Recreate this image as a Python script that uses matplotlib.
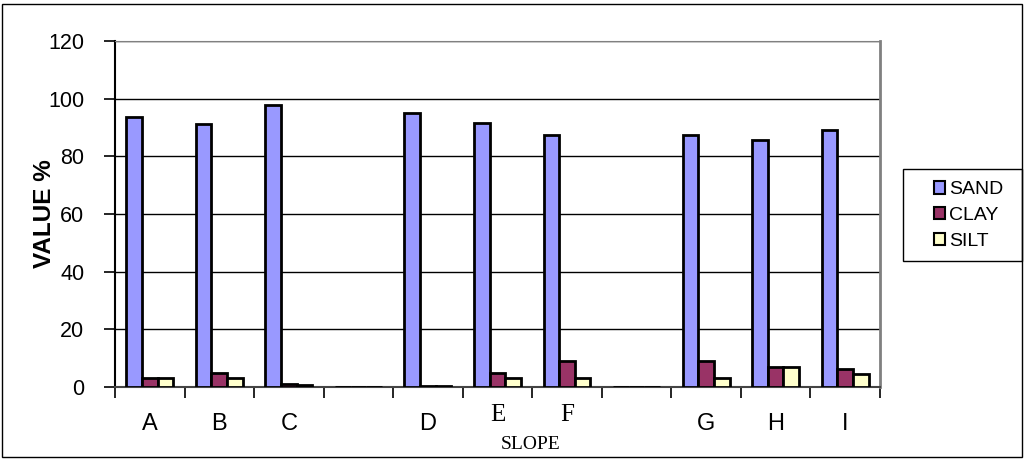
import numpy as np
import matplotlib.pyplot as plt
from matplotlib.patches import Rectangle

plt.rcParams["font.family"] = ["Liberation Sans", "DejaVu Sans"]

# data (blank slots separate the three groups)
slopes = ["A", "B", "C", "", "D", "E", "F", "", "G", "H", "I"]
sand = [93.5, 91.3, 97.7, 0, 95.2, 91.7, 87.4, 0, 87.3, 85.5, 89.1]
clay = [3.1, 4.8, 1.0, 0, 0.5, 4.8, 8.9, 0, 9.0, 6.8, 6.2]
silt = [3.1, 3.1, 0.8, 0, 0.2, 3.1, 3.1, 0, 3.0, 6.9, 4.4]

colors = {"SAND": "#9999FF", "CLAY": "#993366", "SILT": "#FFFFCC"}

fig = plt.figure(figsize=(10.24, 4.61), dpi=100)
ax = fig.add_axes([0.1123, 0.1605, 0.747, 0.7505])

x = np.arange(len(slopes))
w = 0.225
for off, vals, name in [(-w, sand, "SAND"), (0, clay, "CLAY"), (w, silt, "SILT")]:
    ax.bar(x + off, vals, w, color=colors[name], edgecolor="black",
           linewidth=2, label=name, zorder=3)

ax.set_xlim(-0.5, len(slopes) - 0.5)
ax.set_ylim(0, 120)
ax.set_yticks(range(0, 121, 20))
ax.yaxis.grid(True, color="black", linewidth=1)
ax.set_axisbelow(True)

# frame
ax.spines["top"].set_color("gray")
ax.spines["right"].set_color("gray")
ax.spines["right"].set_linewidth(2)
ax.spines["left"].set_linewidth(1.5)
ax.spines["bottom"].set_color("#444444")
ax.spines["bottom"].set_linewidth(1.5)

ax.tick_params(axis="y", direction="out", length=8, width=1.2, labelsize=15.5, pad=14)

# labels at centres, tick marks at the slot boundaries
ax.set_xticks(x)
ax.set_xticklabels(slopes, fontsize=17)
ax.tick_params(axis="x", which="major", length=0, pad=19)
ax.set_xticks(np.arange(-0.5, len(slopes), 1), minor=True)
ax.tick_params(axis="x", which="minor", direction="out", length=8, width=1.2)

ticks = ax.xaxis.get_major_ticks()
for i in (5, 6):
    ticks[i].set_pad(12)
    ticks[i].label1.set_fontfamily("Liberation Serif")
    ticks[i].label1.set_fontsize(18)

ax.set_ylabel("VALUE %", fontsize=17.5, fontweight="bold")
ax.yaxis.set_label_coords(-0.077, 0.5)
fig.text(0.518, 0.036, "SLOPE", fontsize=14, family="Liberation Serif",
         ha="center", va="center")

leg = fig.legend(loc="center", bbox_to_anchor=(0.9458, 0.5325), fontsize=14,
                 frameon=False, handlelength=0.6, handleheight=0.6,
                 handletextpad=0.2, borderpad=0, labelspacing=0.45,
                 borderaxespad=0)
for h in leg.legend_handles:
    h.set_linewidth(1.5)

# legend box and outer border
fig.patches.append(Rectangle((903 / 1024, 1 - 261 / 461), 119 / 1024, 92 / 461,
                             transform=fig.transFigure, fill=False,
                             edgecolor="black", linewidth=1))
fig.patches.append(Rectangle((0.002, 0.008), 0.996, 0.984, transform=fig.transFigure,
                             fill=False, edgecolor="black", linewidth=1))

fig.savefig("out.png", dpi=100)
